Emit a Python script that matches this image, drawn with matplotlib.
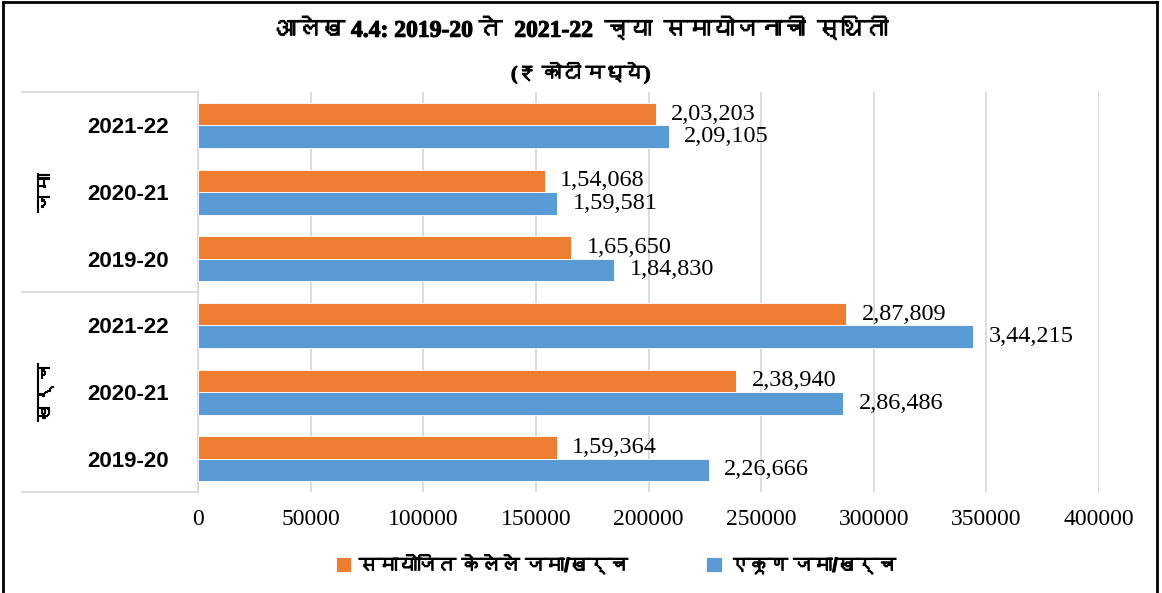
import numpy as np
import matplotlib
matplotlib.use('Agg')
import matplotlib.pyplot as plt
import matplotlib.transforms as mtransforms
import matplotlib.patheffects as pe
from matplotlib import font_manager
from matplotlib.ft2font import FT2Font
from matplotlib.lines import Line2D

# ---------------------------------------------------------------
# data (₹ crore)
# ---------------------------------------------------------------
groups = ['जमा', 'खर्च']
years = ['2021-22', '2020-21', '2019-20']
adjusted = [203203, 154068, 165650, 287809, 238940, 159364]   # समायोजित केलेले
total = [209105, 159581, 184830, 344215, 286486, 226666]      # एकूण
series_names = ['समायोजित केलेले जमा/खर्च', 'एकूण जमा/खर्च']
xticks = list(range(0, 400001, 50000))
title = 'आलेख 4.4: 2019-20 ते  2021-22  च्या  समायोजनाची  स्थिती'
subtitle = '(₹ कोटी मध्ये)'

orange = '#ED7D31'
blue = '#5B9BD5'
grid_grey = '#D9D9D9'


def deva_font():
    # look for any installed font that has Devanagari glyphs
    for f in font_manager.fontManager.ttflist:
        try:
            if 0x0915 in FT2Font(f.fname).get_charmap():
                return f.name
        except Exception:
            continue
    return None


def indian(n):
    # 203203 -> 2,03,203
    s = str(int(n))
    if len(s) <= 3:
        return s
    head, tail = s[:-3], s[-3:]
    parts = []
    while len(head) > 2:
        parts.insert(0, head[-2:])
        head = head[:-2]
    if head:
        parts.insert(0, head)
    return ','.join(parts + [tail])


deva = deva_font()
serif = ['Liberation Serif'] + ([deva] if deva else []) + ['DejaVu Sans']
sans = ['Liberation Sans'] + ([deva] if deva else []) + ['DejaVu Sans']
plt.rcParams['font.family'] = serif
# the devanagari font has no bold face, so thicken it with a thin stroke
fake_bold = [pe.withStroke(linewidth=0.8, foreground='black')]

fig = plt.figure(figsize=(11.62, 5.93), dpi=100)
ax = fig.add_axes([198 / 1162, 1 - 492 / 593, 901 / 1162, 400 / 593])

n = len(adjusted)
y = np.arange(n)
h = 0.3375
b1 = ax.barh(y - h / 2, adjusted, height=h, color=orange,
             edgecolor='white', linewidth=0.6, zorder=3)
b2 = ax.barh(y + h / 2, total, height=h, color=blue,
             edgecolor='white', linewidth=0.6, zorder=3)

for bars, vals in [(b1, adjusted), (b2, total)]:
    for bar, v in zip(bars, vals):
        ax.annotate(indian(v), (v, bar.get_y() + bar.get_height() / 2),
                    xytext=(11, 0), textcoords='offset points',
                    ha='left', va='center', fontsize=17.5, family=serif)

ax.set_xlim(0, 400000)
ax.set_ylim(n - 0.5, -0.5)
ax.set_xticks(xticks)
ax.set_xticklabels([str(t) for t in xticks], fontsize=17, family=serif)
ax.tick_params(axis='x', length=0, pad=12)
ax.set_yticks(y)
ax.set_yticklabels(years * len(groups), fontsize=16, fontweight='bold', family=sans)
ax.tick_params(axis='y', length=0, pad=21)
ax.xaxis.grid(True, color=grid_grey, linewidth=1.3, zorder=0)
ax.set_axisbelow(True)
for s in ['top', 'right', 'bottom']:
    ax.spines[s].set_visible(False)
ax.spines['left'].set_color(grid_grey)
ax.spines['left'].set_linewidth(1.3)

# multi-level category axis: group labels + separators
trans = mtransforms.blended_transform_factory(ax.transAxes, ax.transData)
for k, g in enumerate(groups):
    ax.text(-0.169, k * 3 + 1, g, transform=trans, rotation=90,
            ha='center', va='center', fontsize=14, fontweight='bold',
            family=sans, path_effects=fake_bold)
for yy in [-0.5, 2.5, 5.5]:
    ax.plot([-0.195, 0], [yy, yy], transform=trans, color=grid_grey,
            linewidth=1.3, clip_on=False)

fig.text(0.5, 1 - 30 / 593, title, ha='center', va='center',
         fontsize=17, fontweight='bold', family=serif, path_effects=fake_bold)
fig.text(0.5, 1 - 73 / 593, subtitle, ha='center', va='center',
         fontsize=14, fontweight='bold', family=serif, path_effects=fake_bold)

leg = fig.legend([b1, b2], series_names, loc='center', ncol=2,
                 bbox_to_anchor=(616 / 1162, 1 - 566 / 593), frameon=False,
                 prop={'family': sans, 'weight': 'bold', 'size': 14},
                 handlelength=0.8, handleheight=0.8, handletextpad=0.4,
                 columnspacing=4.0)
for t in leg.get_texts():
    t.set_path_effects(fake_bold)

# outer chart border
for xs, ys in [([0.003, 0.003], [0, 0.997]), ([0.003, 0.996], [0.997, 0.997]),
               ([0.996, 0.996], [0, 0.997])]:
    fig.add_artist(Line2D(xs, ys, color='black', linewidth=2,
                          transform=fig.transFigure))

fig.savefig('out.png', dpi=100)
